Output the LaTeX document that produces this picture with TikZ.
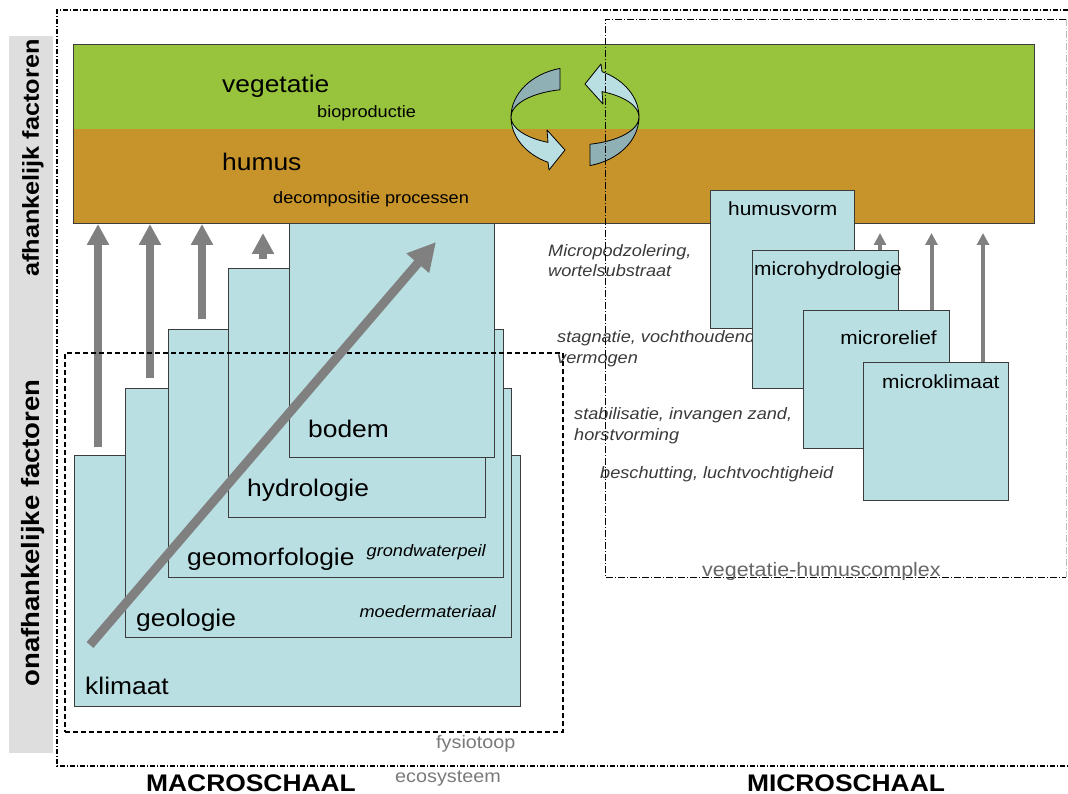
\documentclass[tikz,border=0pt]{standalone}
\usepackage{fontspec}
\setmainfont{Liberation Sans}[FakeStretch=1.1]
\usetikzlibrary{arrows.meta}
\definecolor{vegc}{HTML}{97C43C}
\definecolor{humc}{HTML}{C6942A}
\definecolor{boxc}{HTML}{B9DFE2}
\definecolor{boxd}{HTML}{8FB0B4}
\definecolor{arrc}{HTML}{808080}
\definecolor{bandc}{HTML}{DEDEDE}
\definecolor{edgec}{HTML}{3C3C3C}
\definecolor{annc}{HTML}{3A3A3A}
\definecolor{greyc}{HTML}{7A7A7A}
\tikzset{
 factbox/.style={draw=edgec, fill=boxc, line width=0.9pt, inner sep=0pt, outer sep=0pt, anchor=north west},
 mainlab/.style={font=\fontsize{24}{28}\selectfont, inner sep=0pt, anchor=base west},
 sublab/.style={font=\fontsize{16.5}{20}\selectfont, inner sep=0pt, anchor=base west},
 itlab/.style={font=\fontsize{16.5}{20}\selectfont\itshape, text=annc, inner sep=0pt, anchor=base west},
 microlab/.style={font=\fontsize{19}{22}\selectfont, inner sep=0pt, anchor=base west},
 greylab/.style={font=\fontsize{18}{22}\selectfont, text=greyc, inner sep=0pt, anchor=base west},
 schaal/.style={font=\bfseries\fontsize{24}{28}\selectfont, inner sep=0pt, anchor=base},
 sidelab/.style={font=\bfseries\fontsize{23}{28}\selectfont, inner sep=0pt, rotate=90},
 bigarrow/.style={draw=arrc, line width=8pt, -{Triangle[width=21pt,length=21pt]}},
 thinarrow/.style={draw=arrc, line width=4pt, -{Triangle[width=12pt,length=12pt]}},
 diagarrow/.style={draw=arrc, line width=9pt, -{Triangle[width=28pt,length=28pt]}},
 ecoline/.style={line width=1.1pt, dash pattern=on 5pt off 2pt on 1pt off 2pt},
 vhline/.style={line width=0.8pt, dash pattern=on 7pt off 2pt on 1pt off 2pt},
 fysline/.style={line width=1.3pt, dash pattern=on 5pt off 3pt},
 cyc/.style={draw=black, line width=0.8pt, line join=round},
 bandpart/.style={inner sep=0pt, outer sep=0pt, anchor=north west, minimum width=961pt},
}
\newcommand\cyclehalf{%
 \filldraw[cyc, fill=boxd] (575,117) ++(256.44:64 and 50)
   arc[start angle=256.44, end angle=180, x radius=64, y radius=50]
   arc[start angle=180, end angle=256.44, x radius=64, y radius=28] -- cycle;
 \filldraw[cyc, fill=boxc] (511,117)
   arc[start angle=180, end angle=114.95, x radius=64, y radius=50]
   -- (549,170) -- (565,150) -- (547,130) -- (548,142.4)
   arc[start angle=114.95, end angle=180, x radius=64, y radius=28] -- cycle;
}
\begin{document}
\begin{tikzpicture}[x=1pt,y=-1pt]
\useasboundingbox (0,0) rectangle (1068,794);
\fill[white] (0,0) rectangle (1068,794);
% side band
\fill[bandc] (9,36) rectangle (53,753);
\node[sidelab] (afh) at (33,158) {afhankelijk factoren};
\node[sidelab, font=\bfseries\fontsize{25}{28}\selectfont] (onafh) at (33,533) {onafhankelijke factoren};
% ecosysteem frame
\draw[ecoline] (1068,10) -- (57,10) -- (57,766) -- (1068,766);
% vegetation / humus band
\node[bandpart, fill=vegc, minimum height=84pt] (vegband) at (73,45) {};
\node[bandpart, fill=humc, minimum height=95pt] (humband) at (73,129) {};
\draw[edgec, line width=1pt] (vegband.north west) rectangle (humband.south east);
% cycle arrows
\cyclehalf
\begin{scope}[rotate around={180:(575,117)}]
\cyclehalf
\end{scope}
\node[mainlab] (lveg) at (222,93) {vegetatie};
\node[sublab] (lbio) at (317,118) {bioproductie};
\node[mainlab] (lhum) at (222,171) {humus};
\node[sublab] (ldec) at (273,204) {decompositie processen};
% annotations
\node[itlab] (n1) at (548,257) {Micropodzolering,};
\node[itlab] (n2) at (548,277) {wortelsubstraat};
\node[itlab] (n3) at (557,342) {stagnatie, vochthoudend};
\node[itlab] (n4) at (557,363) {vermogen};
\node[itlab] (n5) at (574,419) {stabilisatie, invangen zand,};
\node[itlab] (n6) at (574,440) {horstvorming};
\node[itlab] (n7) at (600,478) {beschutting, luchtvochtigheid};
% macro boxes
\node[factbox, minimum width=446pt, minimum height=251pt] (klimaat) at (74,455) {};
\node[mainlab] (lklim) at (85,694) {klimaat};
\node[factbox, minimum width=386pt, minimum height=249pt] (geologie) at (125,388) {};
\node[mainlab] (lgeol) at (136,626) {geologie};
\node[itlab, anchor=base east, text=black] (lmoed) at (496,617) {moedermateriaal};
\node[factbox, minimum width=335pt, minimum height=248pt] (geomorf) at (168,329) {};
\node[mainlab] (lgeom) at (187,565) {geomorfologie};
\node[itlab, anchor=base east, text=black] (lgrond) at (486,556) {grondwaterpeil};
\node[factbox, minimum width=257pt, minimum height=249pt] (hydro) at (228,268) {};
\node[mainlab] (lhydro) at (247,496) {hydrologie};
\node[factbox, minimum width=205pt, minimum height=234pt] (bodem) at (289,223) {};
\node[mainlab] (lbodem) at (308,437) {bodem};
% vertical arrows
\coordinate (s1) at ([xshift=24pt,yshift=8pt]klimaat.north west);
\coordinate (s2) at ([xshift=25pt,yshift=10pt]geologie.north west);
\coordinate (s3) at ([xshift=34pt,yshift=10pt]geomorf.north west);
\coordinate (s4) at ([xshift=35pt,yshift=9pt]hydro.north west);
\coordinate (t4) at (s4 |- humband.south);
\draw[bigarrow] (s1) -- (s1 |- humband.south);
\draw[bigarrow] (s2) -- (s2 |- humband.south);
\draw[bigarrow] (s3) -- (s3 |- humband.south);
\draw[bigarrow] (s4) -- ([yshift=-9pt]t4);
% fysiotoop
\node[draw, fysline, inner sep=0pt, outer sep=0pt, anchor=north west, minimum width=498pt, minimum height=379pt] (fysio) at (65,353) {};
\node[greylab] (lfys) at (436,748) {fysiotoop};
% diagonal arrow
\coordinate (dS) at (90,645);
\coordinate (dE) at (436,242);
\draw[diagarrow] (dS) -- (dE);
% micro boxes
\node[factbox, minimum width=144pt, minimum height=138pt] (humusvorm) at (710,190) {};
\node[microlab] (lhv) at (728,216) {humusvorm};
\node[factbox, minimum width=146pt, minimum height=138pt] (microhydro) at (752,250) {};
\node[microlab] (lmh) at (754,276) {microhydrologie};
\node[factbox, minimum width=146pt, minimum height=138pt] (microrelief) at (803,310) {};
\node[microlab, anchor=base east] (lmr) at (937,344) {microrelief};
\node[factbox, minimum width=145pt, minimum height=138pt] (microklim) at (863,362) {};
\node[microlab] (lmk) at (882,388) {microklimaat};
\coordinate (r1) at ([xshift=-18pt]microhydro.north east);
\coordinate (r2) at ([xshift=-17.5pt]microrelief.north east);
\coordinate (r3) at ([xshift=-25pt]microklim.north east);
\coordinate (u1) at (r1 |- humband.south);
\coordinate (u2) at (r2 |- humband.south);
\coordinate (u3) at (r3 |- humband.south);
\draw[thinarrow] (r1) -- ([yshift=-9pt]u1);
\draw[thinarrow] (r2) -- ([yshift=-9pt]u2);
\draw[thinarrow] (r3) -- ([yshift=-9pt]u3);
% vegetatie-humuscomplex frame
\draw[vhline] (1066,19) -- (605,19) -- (605,577) -- (1066,577);
\draw[vhline, draw=black!25] (1066,19) -- (1066,577);
\node[greylab, font=\fontsize{19.5}{22}\selectfont, text=black!60] (lvh) at (702,576) {vegetatie-humuscomplex};
% bottom labels
\node[greylab] (leco) at (395,782) {ecosysteem};
\node[schaal] (macro) at (251,791) {MACROSCHAAL};
\node[schaal] (micro) at (846,791) {MICROSCHAAL};
\end{tikzpicture}
\end{document}
